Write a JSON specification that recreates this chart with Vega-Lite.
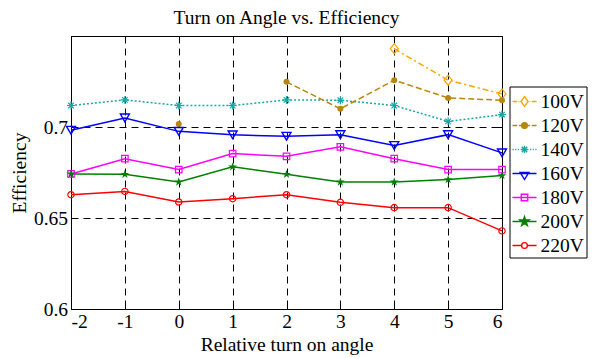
{
  "$schema": "https://vega.github.io/schema/vega-lite/v6.json",
  "autosize": {"type": "none"},
  "padding": {"left": 71, "top": 36, "right": 90, "bottom": 49},
  "width": 431,
  "height": 273,
  "background": "white",
  "title": {"text": "Turn on Angle vs. Efficiency", "font": "Liberation Serif", "fontSize": 19.5, "fontWeight": "normal", "color": "black", "anchor": "middle", "frame": "group", "baseline": "alphabetic", "offset": -8},
  "config": {
    "view": {"stroke": "black", "strokeWidth": 1},
    "axis": {"labelFont": "Liberation Serif", "labelFontSize": 19.5, "labelColor": "black", "titleFont": "Liberation Serif", "titleFontSize": 19.5, "titleFontWeight": "normal", "titleColor": "black", "tickColor": "black", "tickWidth": 1, "domain": false},
    "legend": {"orient": "none", "legendX": 438.5, "legendY": 50.5, "title": null, "padding": 2, "symbolSize": 576, "symbolStrokeWidth": 1.4, "symbolOpacity": 1, "labelFont": "Liberation Serif", "labelFontSize": 19.5, "labelColor": "black", "labelOffset": 3, "rowPadding": 1, "strokeColor": "black", "fillColor": "white"}
  },
  "data": {"values": [
    {"series": "100V", "x": 4, "y": 0.743},
    {"series": "100V", "x": 5, "y": 0.7257},
    {"series": "100V", "x": 6, "y": 0.7182},
    {"series": "120V", "x": 0, "y": 0.7017},
    {"series": "120V", "x": 1, "y": null},
    {"series": "120V", "x": 2, "y": 0.7248},
    {"series": "120V", "x": 3, "y": 0.71},
    {"series": "120V", "x": 4, "y": 0.7257},
    {"series": "120V", "x": 5, "y": 0.716},
    {"series": "120V", "x": 6, "y": 0.7147},
    {"series": "140V", "x": -2, "y": 0.7118},
    {"series": "140V", "x": -1, "y": 0.7149},
    {"series": "140V", "x": 0, "y": 0.7118},
    {"series": "140V", "x": 1, "y": 0.7118},
    {"series": "140V", "x": 2, "y": 0.7149},
    {"series": "140V", "x": 3, "y": 0.7147},
    {"series": "140V", "x": 4, "y": 0.7118},
    {"series": "140V", "x": 5, "y": 0.7031},
    {"series": "140V", "x": 6, "y": 0.7068},
    {"series": "160V", "x": -2, "y": 0.6982},
    {"series": "160V", "x": -1, "y": 0.705},
    {"series": "160V", "x": 0, "y": 0.6976},
    {"series": "160V", "x": 1, "y": 0.6957},
    {"series": "160V", "x": 2, "y": 0.6949},
    {"series": "160V", "x": 3, "y": 0.6958},
    {"series": "160V", "x": 4, "y": 0.6898},
    {"series": "160V", "x": 5, "y": 0.6958},
    {"series": "160V", "x": 6, "y": 0.6858},
    {"series": "180V", "x": -2, "y": 0.6742},
    {"series": "180V", "x": -1, "y": 0.6826},
    {"series": "180V", "x": 0, "y": 0.6766},
    {"series": "180V", "x": 1, "y": 0.6854},
    {"series": "180V", "x": 2, "y": 0.6839},
    {"series": "180V", "x": 3, "y": 0.6891},
    {"series": "180V", "x": 4, "y": 0.6826},
    {"series": "180V", "x": 5, "y": 0.6766},
    {"series": "180V", "x": 6, "y": 0.6766},
    {"series": "200V", "x": -2, "y": 0.6742},
    {"series": "200V", "x": -1, "y": 0.674},
    {"series": "200V", "x": 0, "y": 0.6698},
    {"series": "200V", "x": 1, "y": 0.6781},
    {"series": "200V", "x": 2, "y": 0.674},
    {"series": "200V", "x": 3, "y": 0.6698},
    {"series": "200V", "x": 4, "y": 0.6698},
    {"series": "200V", "x": 5, "y": 0.6711},
    {"series": "200V", "x": 6, "y": 0.6733},
    {"series": "220V", "x": -2, "y": 0.6628},
    {"series": "220V", "x": -1, "y": 0.6646},
    {"series": "220V", "x": 0, "y": 0.6588},
    {"series": "220V", "x": 1, "y": 0.6606},
    {"series": "220V", "x": 2, "y": 0.6628},
    {"series": "220V", "x": 3, "y": 0.6586},
    {"series": "220V", "x": 4, "y": 0.6557},
    {"series": "220V", "x": 5, "y": 0.6557},
    {"series": "220V", "x": 6, "y": 0.6429}
  ]},
  "encoding": {
    "x": {"field": "x", "type": "quantitative", "scale": {"domain": [-2, 6], "nice": false, "zero": false}, "axis": null},
    "y": {"field": "y", "type": "quantitative", "scale": {"domain": [0.6, 0.75], "nice": false, "zero": false}, "axis": null}
  },
  "layer": [
    {
      "mark": {"type": "point", "opacity": 0, "size": 1, "filled": false},
      "encoding": {
        "x": {"field": "x", "type": "quantitative", "scale": {"domain": [-2, 6], "nice": false, "zero": false}, "axis": {"orient": "top", "values": [-2, -1, 0, 1, 2, 3, 4, 5, 6], "labels": false, "grid": false, "domain": false, "tickSize": -5, "title": null, "minExtent": 0, "maxExtent": 0}},
        "y": {"field": "y", "type": "quantitative", "scale": {"domain": [0.6, 0.75], "nice": false, "zero": false}, "axis": {"orient": "right", "values": [0.6, 0.65, 0.7, 0.75], "labels": false, "grid": false, "domain": false, "tickSize": -5, "title": null, "minExtent": 0, "maxExtent": 0}},
        "color": {"field": "series", "type": "nominal", "scale": {"domain": ["100V", "120V", "140V", "160V", "180V", "200V", "220V"], "range": ["#ffa500", "#b8860b", "#1aa6a6", "#0000ff", "#ff00ff", "#008000", "#ff0000"]}, "legend": {"title": null}},
        "fill": {"field": "series", "type": "nominal", "scale": {"domain": ["100V", "120V", "140V", "160V", "180V", "200V", "220V"], "range": ["transparent", "#b8860b", "transparent", "transparent", "transparent", "#008000", "transparent"]}, "legend": {"title": null}},
        "shape": {"field": "series", "type": "nominal", "scale": {"domain": ["100V", "120V", "140V", "160V", "180V", "200V", "220V"], "range": [
          "M-1,0L-0.62,0M-0.5,0L-0.42,0M0.42,0L0.5,0M0.62,0L1,0M-0.3,0L0,-0.4L0.3,0L0,0.4Z",
          "M-1,0L-0.6,0M-0.45,0L-0.05,0M0.05,0L0.45,0M0.6,0L1,0M-0.24,0A0.24,0.24,0,1,0,0.24,0A0.24,0.24,0,1,0,-0.24,0Z",
          "M-1,0L-0.9,0M-0.78,0L-0.68,0M-0.56,0L-0.46,0M0.46,0L0.56,0M0.68,0L0.78,0M0.9,0L1,0M-0.32,0L0.32,0M0,-0.32L0,0.32M-0.23,-0.23L0.23,0.23M-0.23,0.23L0.23,-0.23",
          "M-1,0L1,0M-0.36,-0.08L0.36,-0.08L0,0.5Z",
          "M-1,0L1,0M-0.27,-0.27L0.27,-0.27L0.27,0.27L-0.27,0.27Z",
          "M-1,0L1,0M0,-0.4L0.09,-0.124L0.38,-0.124L0.145,0.047L0.235,0.324L0,0.153L-0.235,0.324L-0.145,0.047L-0.38,-0.124L-0.09,-0.124Z",
          "M-1,0L-0.24,0M0.24,0L1,0M-0.24,0A0.24,0.24,0,1,0,0.24,0A0.24,0.24,0,1,0,-0.24,0Z"
        ]}, "legend": {"title": null}}
      }
    },
    {
      "transform": [{"filter": "datum.series === '140V'"}],
      "mark": {"type": "line", "strokeWidth": 1.5, "color": "#1aa6a6", "strokeDash": [2, 2]},
      "encoding": {
        "x": {"field": "x", "type": "quantitative", "scale": {"domain": [-2, 6], "nice": false, "zero": false}, "axis": {"orient": "bottom", "values": [-2, -1, 0, 1, 2, 3, 4, 5, 6], "labelExpr": "'' + datum.value", "grid": true, "gridColor": "black", "gridDash": [7, 5], "gridWidth": 1, "tickSize": -5, "labelPadding": 8.5, "title": "Relative turn on angle", "titleX": 215.5, "titleY": 41, "titleBaseline": "alphabetic"}},
        "y": {"field": "y", "type": "quantitative", "scale": {"domain": [0.6, 0.75], "nice": false, "zero": false}, "axis": {"orient": "left", "values": [0.6, 0.65, 0.7], "format": "~g", "grid": true, "gridColor": "black", "gridDash": [7, 5], "gridWidth": 1, "tickSize": -5, "labelPadding": 8.5, "title": "Efficiency", "titleX": -46, "titleY": 136.5, "titleBaseline": "alphabetic", "titleAngle": -90}}
      }
    },
    {"transform": [{"filter": "datum.series === '100V'"}], "mark": {"type": "line", "strokeWidth": 1.5, "color": "#ffa500", "strokeDash": [6, 3, 2, 3]}},
    {"transform": [{"filter": "datum.series === '120V'"}], "mark": {"type": "line", "strokeWidth": 1.5, "color": "#b8860b", "strokeDash": [6, 3], "invalid": "break-paths-show-domains"}},
    {"transform": [{"filter": "datum.series === '160V'"}], "mark": {"type": "line", "strokeWidth": 1.5, "color": "#0000ff"}},
    {"transform": [{"filter": "datum.series === '180V'"}], "mark": {"type": "line", "strokeWidth": 1.5, "color": "#ff00ff"}},
    {"transform": [{"filter": "datum.series === '200V'"}], "mark": {"type": "line", "strokeWidth": 1.5, "color": "#008000"}},
    {"transform": [{"filter": "datum.series === '220V'"}], "mark": {"type": "line", "strokeWidth": 1.5, "color": "#ff0000"}},
    {"transform": [{"filter": "datum.series === '100V'"}], "mark": {"type": "point", "shape": "M-0.8,0L0,-1L0.8,0L0,1Z", "size": 100, "strokeWidth": 1.2, "filled": false, "opacity": 1, "color": "#ffa500"}},
    {"transform": [{"filter": "datum.series === '120V'"}], "mark": {"type": "point", "shape": "circle", "size": 36, "strokeWidth": 1, "filled": true, "opacity": 1, "color": "#b8860b"}},
    {"transform": [{"filter": "datum.series === '140V'"}], "mark": {"type": "point", "shape": "M-1,0L1,0M0,-1L0,1M-0.7,-0.7L0.7,0.7M-0.7,0.7L0.7,-0.7", "size": 64, "strokeWidth": 1.2, "filled": false, "opacity": 1, "color": "#1aa6a6"}},
    {"transform": [{"filter": "datum.series === '160V'"}], "mark": {"type": "point", "shape": "triangle-down", "size": 81, "strokeWidth": 1.4, "filled": false, "opacity": 1, "color": "#0000ff"}},
    {"transform": [{"filter": "datum.series === '180V'"}], "mark": {"type": "point", "shape": "square", "size": 42, "strokeWidth": 1.2, "filled": false, "opacity": 1, "color": "#ff00ff"}},
    {"transform": [{"filter": "datum.series === '200V'"}], "mark": {"type": "point", "shape": "M0,-1L0.225,-0.309L0.951,-0.309L0.363,0.118L0.588,0.809L0,0.382L-0.588,0.809L-0.363,0.118L-0.951,-0.309L-0.225,-0.309Z", "size": 85, "strokeWidth": 1, "filled": true, "opacity": 1, "color": "#008000"}},
    {"transform": [{"filter": "datum.series === '220V'"}], "mark": {"type": "point", "shape": "circle", "size": 40, "strokeWidth": 1.2, "filled": false, "opacity": 1, "color": "#ff0000"}}
  ],
  "resolve": {"axis": {"x": "independent", "y": "independent"}}
}
